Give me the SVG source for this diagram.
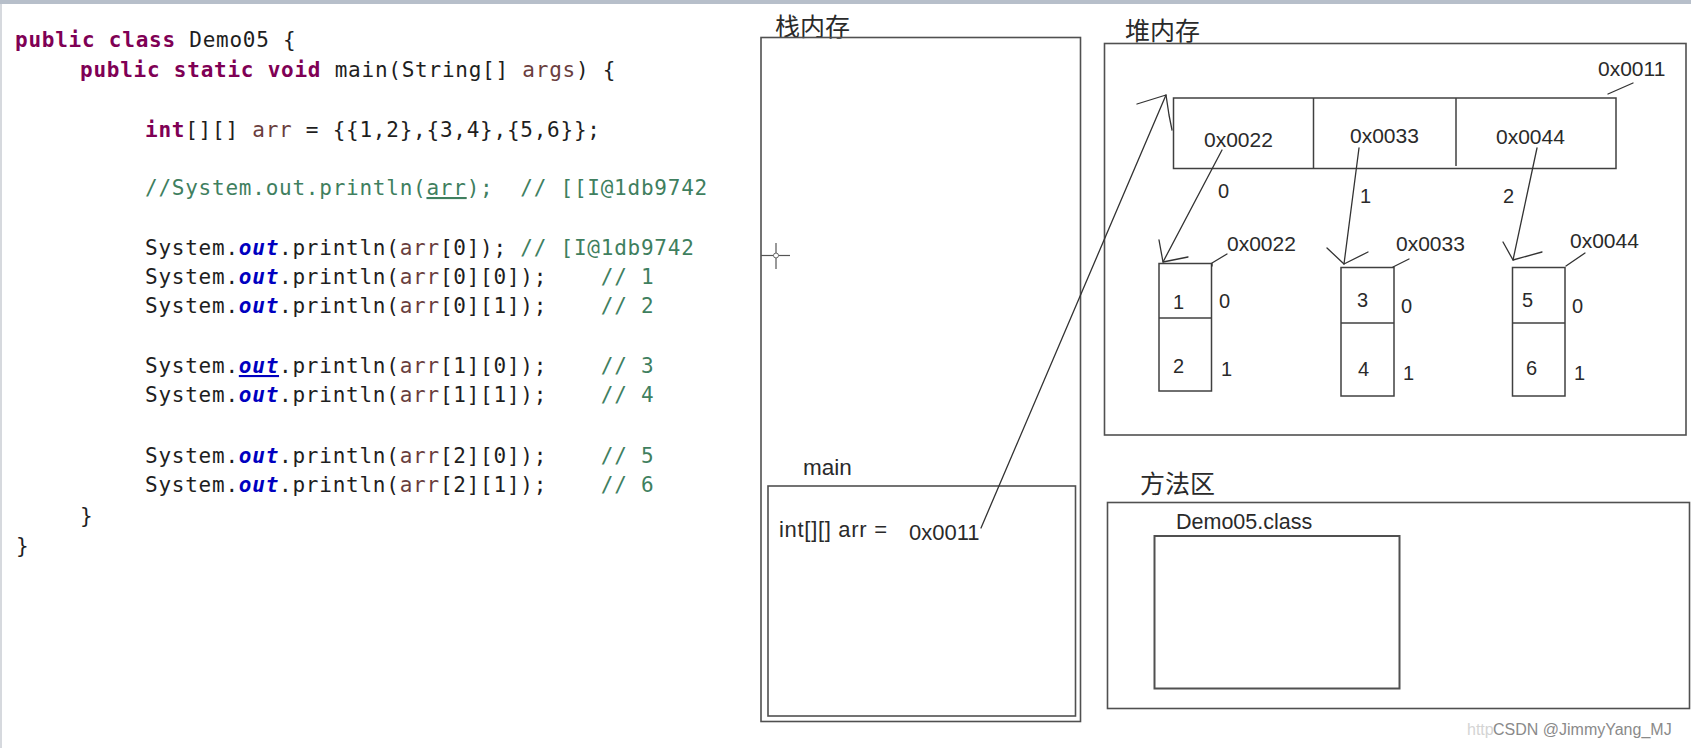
<svg xmlns="http://www.w3.org/2000/svg" width="1691" height="748" viewBox="0 0 1691 748">
<style>
.code{font-family:"DejaVu Sans Mono","Liberation Mono",monospace;font-size:21px;letter-spacing:0.76px;fill:#1e1e1e;white-space:pre}
.kw{fill:#7f0055;font-weight:bold}
.var{fill:#6a3e3e}
.cm{fill:#3f7f5f}
.out{fill:#0000c0;font-weight:bold;font-style:italic}
.ul{text-decoration:underline}
.box{fill:none;stroke:#505050;stroke-width:1.6}
.cell{fill:none;stroke:#404040;stroke-width:1.5}
.lbl{font-family:"Liberation Sans",Arial,sans-serif;font-size:21px;fill:#2a2a2a}
.num{font-family:"Liberation Sans",Arial,sans-serif;font-size:20px;fill:#2a2a2a}
.cjk{font-family:"Noto Sans CJK SC","Noto Sans CJK JP",sans-serif;font-size:25px;fill:#2a2a2a}
.ln{fill:none;stroke:#333;stroke-width:1.3;stroke-linejoin:round;stroke-linecap:round}
</style>
<rect x="0" y="0" width="1691" height="748" fill="#ffffff"/>
<rect x="0" y="0" width="1691" height="4" fill="#b7bfca"/>
<rect x="0" y="4" width="2" height="744" fill="#d6d9de"/>

<g id="code">
<text class="code" x="15" y="47"><tspan class="kw">public</tspan> <tspan class="kw">class</tspan> Demo05 {</text>
<text class="code" x="80" y="77"><tspan class="kw">public</tspan> <tspan class="kw">static</tspan> <tspan class="kw">void</tspan> main(String[] <tspan class="var">args</tspan>) {</text>
<text class="code" x="145" y="137"><tspan class="kw">int</tspan>[][] <tspan class="var">arr</tspan> = {{1,2},{3,4},{5,6}};</text>
<text class="code" x="145" y="195"><tspan class="cm">//System.out.println(<tspan class="ul">arr</tspan>);  // [[I@1db9742</tspan></text>
<text class="code" x="145" y="255">System.<tspan class="out">out</tspan>.println(<tspan class="var">arr</tspan>[0]); <tspan class="cm">// [I@1db9742</tspan></text>
<text class="code" x="145" y="284">System.<tspan class="out">out</tspan>.println(<tspan class="var">arr</tspan>[0][0]);    <tspan class="cm">// 1</tspan></text>
<text class="code" x="145" y="313">System.<tspan class="out">out</tspan>.println(<tspan class="var">arr</tspan>[0][1]);    <tspan class="cm">// 2</tspan></text>
<text class="code" x="145" y="373">System.<tspan class="out ul">out</tspan>.println(<tspan class="var">arr</tspan>[1][0]);    <tspan class="cm">// 3</tspan></text>
<text class="code" x="145" y="402">System.<tspan class="out">out</tspan>.println(<tspan class="var">arr</tspan>[1][1]);    <tspan class="cm">// 4</tspan></text>
<text class="code" x="145" y="463">System.<tspan class="out">out</tspan>.println(<tspan class="var">arr</tspan>[2][0]);    <tspan class="cm">// 5</tspan></text>
<text class="code" x="145" y="492">System.<tspan class="out">out</tspan>.println(<tspan class="var">arr</tspan>[2][1]);    <tspan class="cm">// 6</tspan></text>
<text class="code" x="80" y="523">}</text>
<text class="code" x="16" y="553">}</text>
</g>

<g id="stack">
<text class="cjk" x="775" y="36">栈内存</text>
<rect class="box" x="761" y="37.5" width="319.5" height="684"/>
<g id="cursor">
<line x1="761" y1="255.5" x2="790" y2="255.5" stroke="#555" stroke-width="1.2"/>
<line x1="776" y1="243" x2="776" y2="269" stroke="#555" stroke-width="1.2"/>
<circle cx="776" cy="255.5" r="2.5" fill="#fff" stroke="#666" stroke-width="1"/>
</g>
</g>

<g id="main-frame">
<text class="lbl" x="803" y="475" style="font-size:22.5px">main</text>
<rect class="box" x="768" y="486" width="307.5" height="230"/>
<text class="lbl" x="779" y="537" style="font-size:22px" textLength="108" lengthAdjust="spacing">int[][] arr =</text>
<text class="lbl" x="909" y="540" style="font-size:22px">0x0011</text>
</g>

<g id="heap">
<text class="cjk" x="1125" y="40">堆内存</text>
<rect class="box" x="1104.5" y="43.5" width="581.5" height="391.5"/>
</g>

<g id="arr-outer">
<text class="lbl" x="1598" y="76">0x0011</text>
<rect class="cell" x="1173.5" y="98" width="442.5" height="70.5"/>
<line class="cell" x1="1313.5" y1="98" x2="1313.5" y2="168.5"/>
<line class="cell" x1="1456" y1="98" x2="1456" y2="166"/>
<text class="lbl" x="1204" y="147">0x0022</text>
<text class="lbl" x="1350" y="143">0x0033</text>
<text class="lbl" x="1496" y="144">0x0044</text>
<text class="num" x="1218" y="198">0</text>
<text class="num" x="1360" y="203">1</text>
<text class="num" x="1503" y="203">2</text>
</g>

<g id="arr0">
<text class="lbl" x="1227" y="251">0x0022</text>
<rect class="cell" x="1159" y="263.5" width="52.5" height="127.5"/>
<line class="cell" x1="1159" y1="318" x2="1211.5" y2="318"/>
<text class="num" x="1173" y="309">1</text>
<text class="num" x="1173" y="373">2</text>
<text class="num" x="1219" y="308">0</text>
<text class="num" x="1221" y="376">1</text>
</g>

<g id="arr1">
<text class="lbl" x="1396" y="251">0x0033</text>
<rect class="cell" x="1341" y="267.5" width="53" height="128.5"/>
<line class="cell" x1="1341" y1="323" x2="1394" y2="323"/>
<text class="num" x="1357" y="307">3</text>
<text class="num" x="1358" y="376">4</text>
<text class="num" x="1401" y="313">0</text>
<text class="num" x="1403" y="380">1</text>
</g>

<g id="arr2">
<text class="lbl" x="1570" y="248">0x0044</text>
<rect class="cell" x="1512.5" y="267.5" width="52.5" height="128.5"/>
<line class="cell" x1="1512.5" y1="323" x2="1565" y2="323"/>
<text class="num" x="1522" y="307">5</text>
<text class="num" x="1526" y="375">6</text>
<text class="num" x="1572" y="313">0</text>
<text class="num" x="1574" y="380">1</text>
</g>

<g id="method-area">
<text class="cjk" x="1140" y="493">方法区</text>
<rect class="box" x="1107.5" y="502.5" width="582" height="206"/>
<g id="demo05-class">
<text class="lbl" x="1176" y="529" style="font-size:21.5px">Demo05.class</text>
<rect class="box" x="1154.5" y="536" width="245" height="152.5" style="stroke-width:2"/>
</g>
</g>

<g id="connectors">
<polyline class="ln" points="981,528 1166,95"/>
<polyline class="ln" points="1137,104 1166,95 1169,115 1172,130"/>
<polyline class="ln" points="1222,150 1163,262"/>
<polyline class="ln" points="1159,240 1163,262 1188,257"/>
<polyline class="ln" points="1359,148 1344,264"/>
<polyline class="ln" points="1327,248 1344,264 1368,252"/>
<polyline class="ln" points="1537,148 1513,260"/>
<polyline class="ln" points="1503,242 1513,260 1542,252"/>
<polyline class="ln" points="1633,83 1608,94"/>
<polyline class="ln" points="1227,254 1212,263 1212,266"/>
<polyline class="ln" points="1409,259 1393,267"/>
<polyline class="ln" points="1585,253 1566,266"/>
</g>

<g id="watermark">
<text x="1467" y="735" style="font-family:'Liberation Sans',Arial,sans-serif;font-size:16px;fill:#d4d4d4">http</text>
<text x="1493" y="735" style="font-family:'Liberation Sans',Arial,sans-serif;font-size:16px;fill:#8a8a8a">CSDN @JimmyYang_MJ</text>
</g>
</svg>
